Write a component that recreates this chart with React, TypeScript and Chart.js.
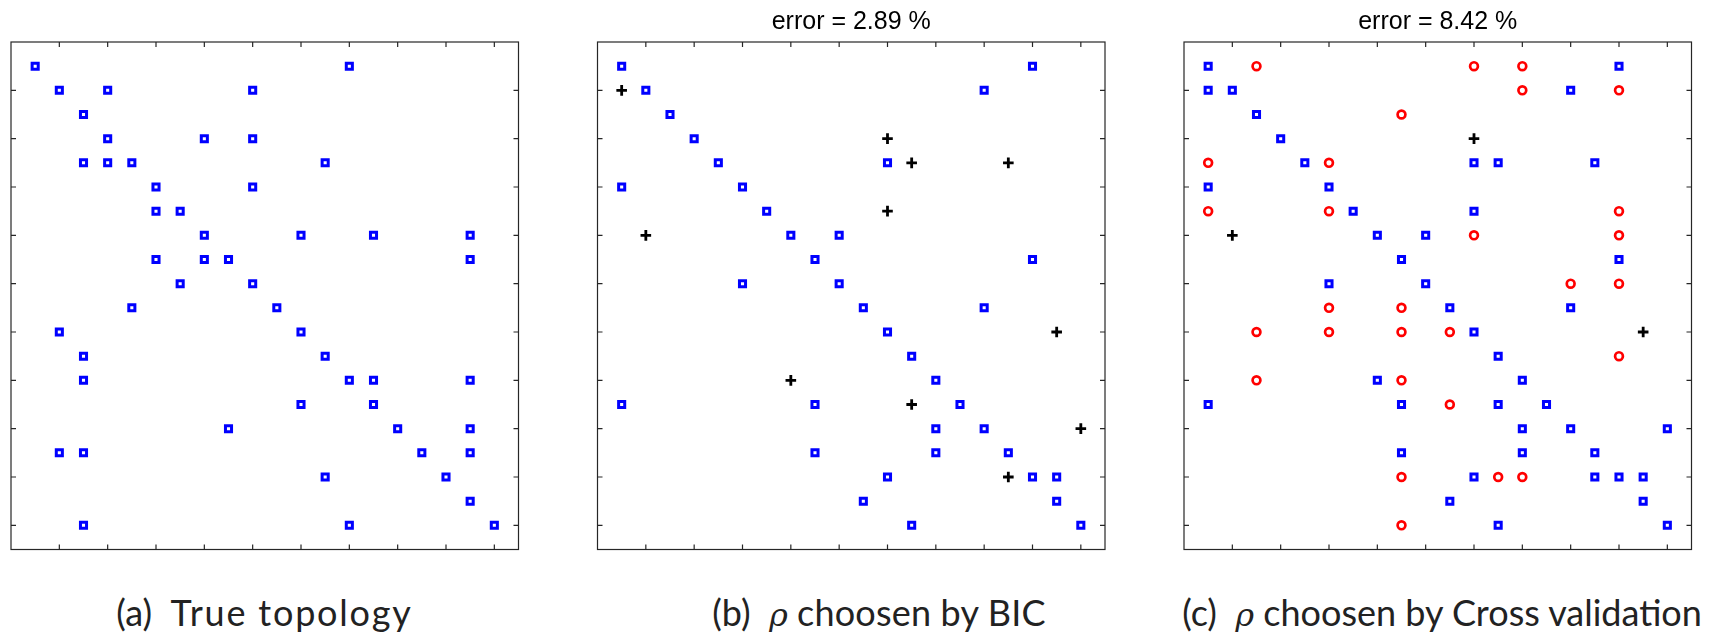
import React, { useEffect, useRef } from "react";
import { Chart, registerables } from "chart.js";

Chart.register(...registerables);

// ---- data (column, row) of each non-zero entry ----
const AXIS_MIN = 0;
const AXIS_MAX = 21;
const TICKS = [2, 4, 6, 8, 10, 12, 14, 16, 18, 20];

const trueSquares: [number, number][] = [
  [1, 1], [14, 1],
  [2, 2], [4, 2], [10, 2],
  [3, 3],
  [4, 4], [8, 4], [10, 4],
  [3, 5], [4, 5], [5, 5], [13, 5],
  [6, 6], [10, 6],
  [6, 7], [7, 7],
  [8, 8], [12, 8], [15, 8], [19, 8],
  [6, 9], [8, 9], [9, 9], [19, 9],
  [7, 10], [10, 10],
  [5, 11], [11, 11],
  [2, 12], [12, 12],
  [3, 13], [13, 13],
  [3, 14], [14, 14], [15, 14], [19, 14],
  [12, 15], [15, 15],
  [9, 16], [16, 16], [19, 16],
  [2, 17], [3, 17], [17, 17], [19, 17],
  [13, 18], [18, 18],
  [19, 19],
  [3, 20], [14, 20], [20, 20],
];

const bicSquares: [number, number][] = [
  [1, 1], [18, 1],
  [2, 2], [16, 2],
  [3, 3],
  [4, 4],
  [5, 5], [12, 5],
  [1, 6], [6, 6],
  [7, 7],
  [8, 8], [10, 8],
  [9, 9], [18, 9],
  [6, 10], [10, 10],
  [11, 11], [16, 11],
  [12, 12],
  [13, 13],
  [14, 14],
  [1, 15], [9, 15], [15, 15],
  [14, 16], [16, 16],
  [9, 17], [14, 17], [17, 17],
  [12, 18], [18, 18], [19, 18],
  [11, 19], [19, 19],
  [13, 20], [20, 20],
];

const bicPlus: [number, number][] = [
  [1, 2], [12, 4], [13, 5], [17, 5], [12, 7], [2, 8],
  [19, 12], [8, 14], [13, 15], [20, 16], [17, 18],
];

const cvSquares: [number, number][] = [
  [1, 1], [18, 1],
  [1, 2], [2, 2], [16, 2],
  [3, 3],
  [4, 4],
  [5, 5], [12, 5], [13, 5], [17, 5],
  [1, 6], [6, 6],
  [7, 7], [12, 7],
  [8, 8], [10, 8],
  [9, 9], [18, 9],
  [6, 10], [10, 10],
  [11, 11], [16, 11],
  [12, 12],
  [13, 13],
  [8, 14], [14, 14],
  [1, 15], [9, 15], [13, 15], [15, 15],
  [14, 16], [16, 16], [20, 16],
  [9, 17], [14, 17], [17, 17],
  [12, 18], [17, 18], [18, 18], [19, 18],
  [11, 19], [19, 19],
  [13, 20], [20, 20],
];

const cvCircles: [number, number][] = [
  [3, 1], [12, 1], [14, 1],
  [14, 2], [18, 2],
  [9, 3],
  [1, 5], [6, 5],
  [1, 7], [6, 7], [18, 7],
  [12, 8], [18, 8],
  [16, 10], [18, 10],
  [6, 11], [9, 11],
  [3, 12], [6, 12], [9, 12], [11, 12],
  [18, 13],
  [3, 14], [9, 14],
  [11, 15],
  [9, 18], [13, 18], [14, 18],
  [9, 20],
];

const cvPlus: [number, number][] = [[12, 4], [2, 8], [19, 12]];

const titles = ["", "error = 2.89 %", "error = 8.42 %"];
const captionLabels = ["(a)", "(b)", "(c)"];
const captionTexts = ["True topology", "choosen by BIC", "choosen by Cross validation"];
const captionHasRho = [false, true, true];

// ---- styles / layout ----
const BLUE = "#0000ff";
const RED = "#ff0000";
const BLACK = "#000000";
const TICK_LEN = 5;

const toPts = (arr: [number, number][]) => arr.map(([c, r]) => ({ x: c, y: r }));

const squareDs = (arr: [number, number][]) => ({
  data: toPts(arr),
  pointStyle: "rect",
  pointRadius: 4.3,
  borderWidth: 3,
  borderColor: BLUE,
  backgroundColor: "rgba(0,0,0,0)",
  showLine: false,
  clip: false as any,
});
const circleDs = (arr: [number, number][]) => ({
  data: toPts(arr),
  pointStyle: "circle",
  pointRadius: 3.9,
  borderWidth: 2.7,
  borderColor: RED,
  backgroundColor: "rgba(0,0,0,0)",
  showLine: false,
  clip: false as any,
});
const plusDs = (arr: [number, number][]) => ({
  data: toPts(arr),
  pointStyle: "cross",
  pointRadius: 5.3,
  borderWidth: 2.8,
  borderColor: BLACK,
  backgroundColor: "rgba(0,0,0,0)",
  showLine: false,
  clip: false as any,
});

const PANELS = [
  { left: 11, top: 42, size: 507.5, datasets: () => [squareDs(trueSquares)], capCenter: 264.5, capSpacing: 1.8 },
  { left: 597.5, top: 42, size: 507.5, datasets: () => [squareDs(bicSquares), plusDs(bicPlus)], capCenter: 879, capSpacing: 0.2 },
  { left: 1184, top: 42, size: 507.5, datasets: () => [squareDs(cvSquares), circleDs(cvCircles), plusDs(cvPlus)], capCenter: 1442, capSpacing: 0 },
];

const CANVAS_TOP = 30;
const CANVAS_SIZE = 532;

const framePlugin = {
  id: "frame",
  beforeDatasetsDraw(chart: any) {
    const { ctx, chartArea: a, scales } = chart;
    const x = scales.x;
    const y = scales.y;
    ctx.save();
    ctx.strokeStyle = "#262626";
    ctx.lineWidth = 1.2;
    ctx.strokeRect(a.left, a.top, a.right - a.left, a.bottom - a.top);
    ctx.beginPath();
    for (const t of TICKS) {
      const px = x.getPixelForValue(t);
      ctx.moveTo(px, a.top);
      ctx.lineTo(px, a.top + TICK_LEN);
      ctx.moveTo(px, a.bottom);
      ctx.lineTo(px, a.bottom - TICK_LEN);
      const py = y.getPixelForValue(t);
      ctx.moveTo(a.left, py);
      ctx.lineTo(a.left + TICK_LEN, py);
      ctx.moveTo(a.right, py);
      ctx.lineTo(a.right - TICK_LEN, py);
    }
    ctx.stroke();
    ctx.restore();
  },
};

function Panel({ idx }: { idx: number }) {
  const ref = useRef<HTMLCanvasElement | null>(null);
  const p = PANELS[idx];
  const cl = Math.floor(p.left - 12);
  useEffect(() => {
    if (!ref.current) return;
    const padL = p.left - cl;
    const padT = p.top - CANVAS_TOP;
    const chart = new Chart(ref.current, {
      type: "scatter",
      data: { datasets: p.datasets() as any },
      options: {
        animation: false,
        responsive: false,
        devicePixelRatio: 1,
        layout: {
          padding: {
            left: padL,
            top: padT,
            right: CANVAS_SIZE - padL - p.size,
            bottom: CANVAS_SIZE - padT - p.size,
          },
        },
        plugins: { legend: { display: false }, tooltip: { enabled: false } },
        scales: {
          x: { type: "linear", min: AXIS_MIN, max: AXIS_MAX, display: false },
          y: { type: "linear", min: AXIS_MIN, max: AXIS_MAX, reverse: true, display: false },
        },
      },
      plugins: [framePlugin],
    });
    return () => chart.destroy();
  }, []);
  return (
    <canvas
      ref={ref}
      width={CANVAS_SIZE}
      height={CANVAS_SIZE}
      style={{ position: "absolute", left: cl, top: CANVAS_TOP, width: CANVAS_SIZE, height: CANVAS_SIZE }}
    />
  );
}

export default function App() {
  return (
    <div style={{ position: "absolute", left: 0, top: 0, width: 1711, height: 632, background: "#fff", overflow: "hidden" }}>
      {PANELS.map((p, i) => (
        <Panel key={i} idx={i} />
      ))}
      {PANELS.map((p, i) =>
        titles[i] ? (
          <div
            key={"t" + i}
            style={{
              position: "absolute",
              left: p.left + p.size / 2 - 200,
              width: 400,
              top: 8,
              textAlign: "center",
              fontFamily: "'Liberation Sans', Arial, sans-serif",
              fontSize: 25,
              lineHeight: "25px",
              color: "#000",
              whiteSpace: "pre",
            }}
          >
            {titles[i]}
          </div>
        ) : null
      )}
      {PANELS.map((p, i) => (
        <div
          key={"c" + i}
          style={{
            position: "absolute",
            left: p.capCenter - 300,
            width: 600,
            top: 594,
            textAlign: "center",
            fontFamily: "Lato, 'Open Sans', sans-serif",
            fontSize: 36,
            lineHeight: "36px",
            color: "#222",
            whiteSpace: "pre",
          }}
        >
          {captionLabels[i]}
          {"  "}
          {captionHasRho[i] ? (
            <>
              <span style={{ fontFamily: "'DejaVu Serif', serif", fontStyle: "italic", fontSize: 32 }}>ρ</span>{" "}
            </>
          ) : null}
          <span style={{ letterSpacing: p.capSpacing }}>{captionTexts[i]}</span>
        </div>
      ))}
    </div>
  );
}
